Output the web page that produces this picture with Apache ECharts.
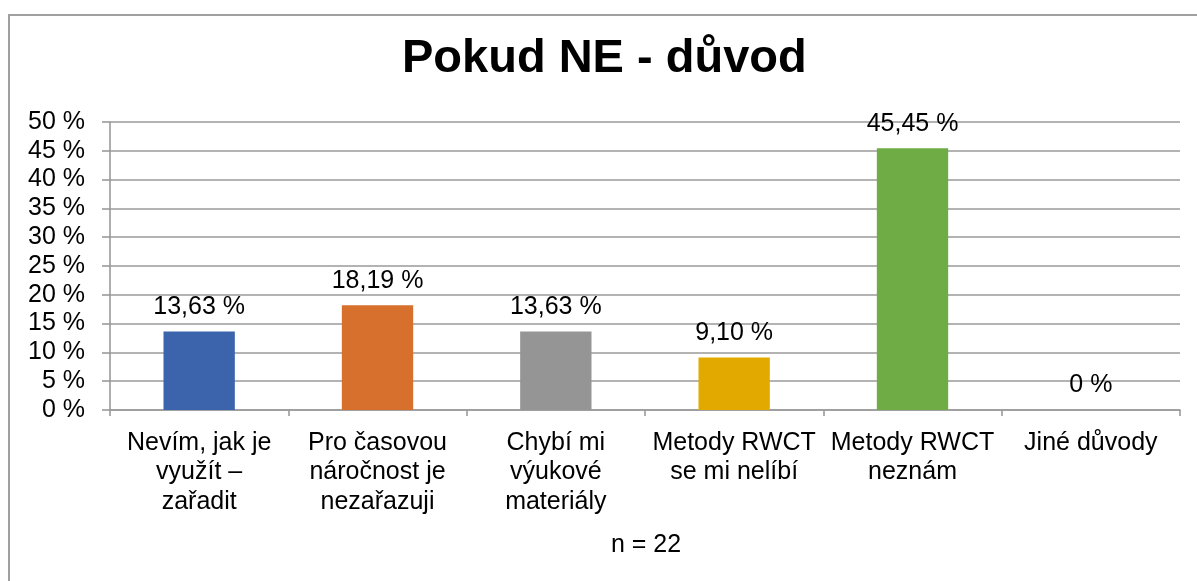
<!DOCTYPE html>
<html>
<head>
<meta charset="utf-8">
<script src="https://cdn.jsdelivr.net/npm/echarts@6/dist/echarts.min.js"></script>
<style>
html,body{margin:0;padding:0;background:#fff;}
#chart{width:1197px;height:581px;}
</style>
</head>
<body>
<div id="chart"></div>
<script>
const categories = [
  'Nevím, jak je\nvyužít –\nzařadit',
  'Pro časovou\nnáročnost je\nnezařazuji',
  'Chybí mi\nvýukové\nmateriály',
  'Metody RWCT\nse mi nelíbí',
  'Metody RWCT\nneznám',
  'Jiné důvody'
];
const values = [13.63, 18.19, 13.63, 9.10, 45.45, 0];
const barColors = ['#3B64AD', '#D7702D', '#959595', '#E2AA00', '#6FAC46', '#4472C4'];
const titleText = 'Pokud NE - důvod';
const noteText = 'n = 22';

const FONT = '"Liberation Sans", Arial, sans-serif';
const chart = echarts.init(document.getElementById('chart'), null, {renderer: 'canvas'});

function fmt(v) {
  return v === 0 ? '0 %' : v.toFixed(2).replace('.', ',') + ' %';
}

chart.setOption({
  animation: false,
  backgroundColor: '#fff',
  title: {
    text: titleText,
    left: 402,
    top: 36,
    padding: 0,
    textStyle: {fontFamily: FONT, fontSize: 47, fontWeight: 'bold', color: '#000'}
  },
  graphic: [
    {
      type: 'rect',
      shape: {x: 9, y: 15, width: 1300, height: 700},
      style: {fill: 'none', stroke: '#a0a0a0', lineWidth: 2},
      silent: true
    },
    {
      type: 'text',
      x: 646, y: 545,
      style: {text: noteText, fontFamily: FONT, fontSize: 25, fill: '#000', textAlign: 'center', textVerticalAlign: 'middle'}
    }
  ],
  grid: {left: 110, right: 17, top: 122, bottom: 171, containLabel: false},
  xAxis: {
    type: 'category',
    data: categories,
    axisLine: {lineStyle: {color: '#9a9a9a', width: 1.6}},
    axisTick: {show: true, length: 6, lineStyle: {color: '#9a9a9a', width: 1.6}},
    axisLabel: {
      color: '#000', fontFamily: FONT, fontSize: 25, lineHeight: 29.5,
      margin: 18, interval: 0, align: 'center'
    }
  },
  yAxis: {
    type: 'value',
    min: 0, max: 50, interval: 5,
    axisLine: {show: true, lineStyle: {color: '#9a9a9a', width: 1.6}},
    axisTick: {show: true, length: 8, lineStyle: {color: '#9a9a9a', width: 1.6}},
    splitLine: {lineStyle: {color: '#9a9a9a', width: 1.6}},
    axisLabel: {
      color: '#000', fontFamily: FONT, fontSize: 25, margin: 25,
      formatter: function (v) { return v + ' %'; }
    }
  },
  series: [{
    type: 'bar',
    data: values.map((v, i) => ({value: v, itemStyle: {color: barColors[i]}})),
    barWidth: '40%',
    label: {
      show: true, position: 'top', distance: 12,
      color: '#000', fontFamily: FONT, fontSize: 25,
      formatter: function (p) { return fmt(p.value); }
    }
  }]
});
</script>
</body>
</html>
